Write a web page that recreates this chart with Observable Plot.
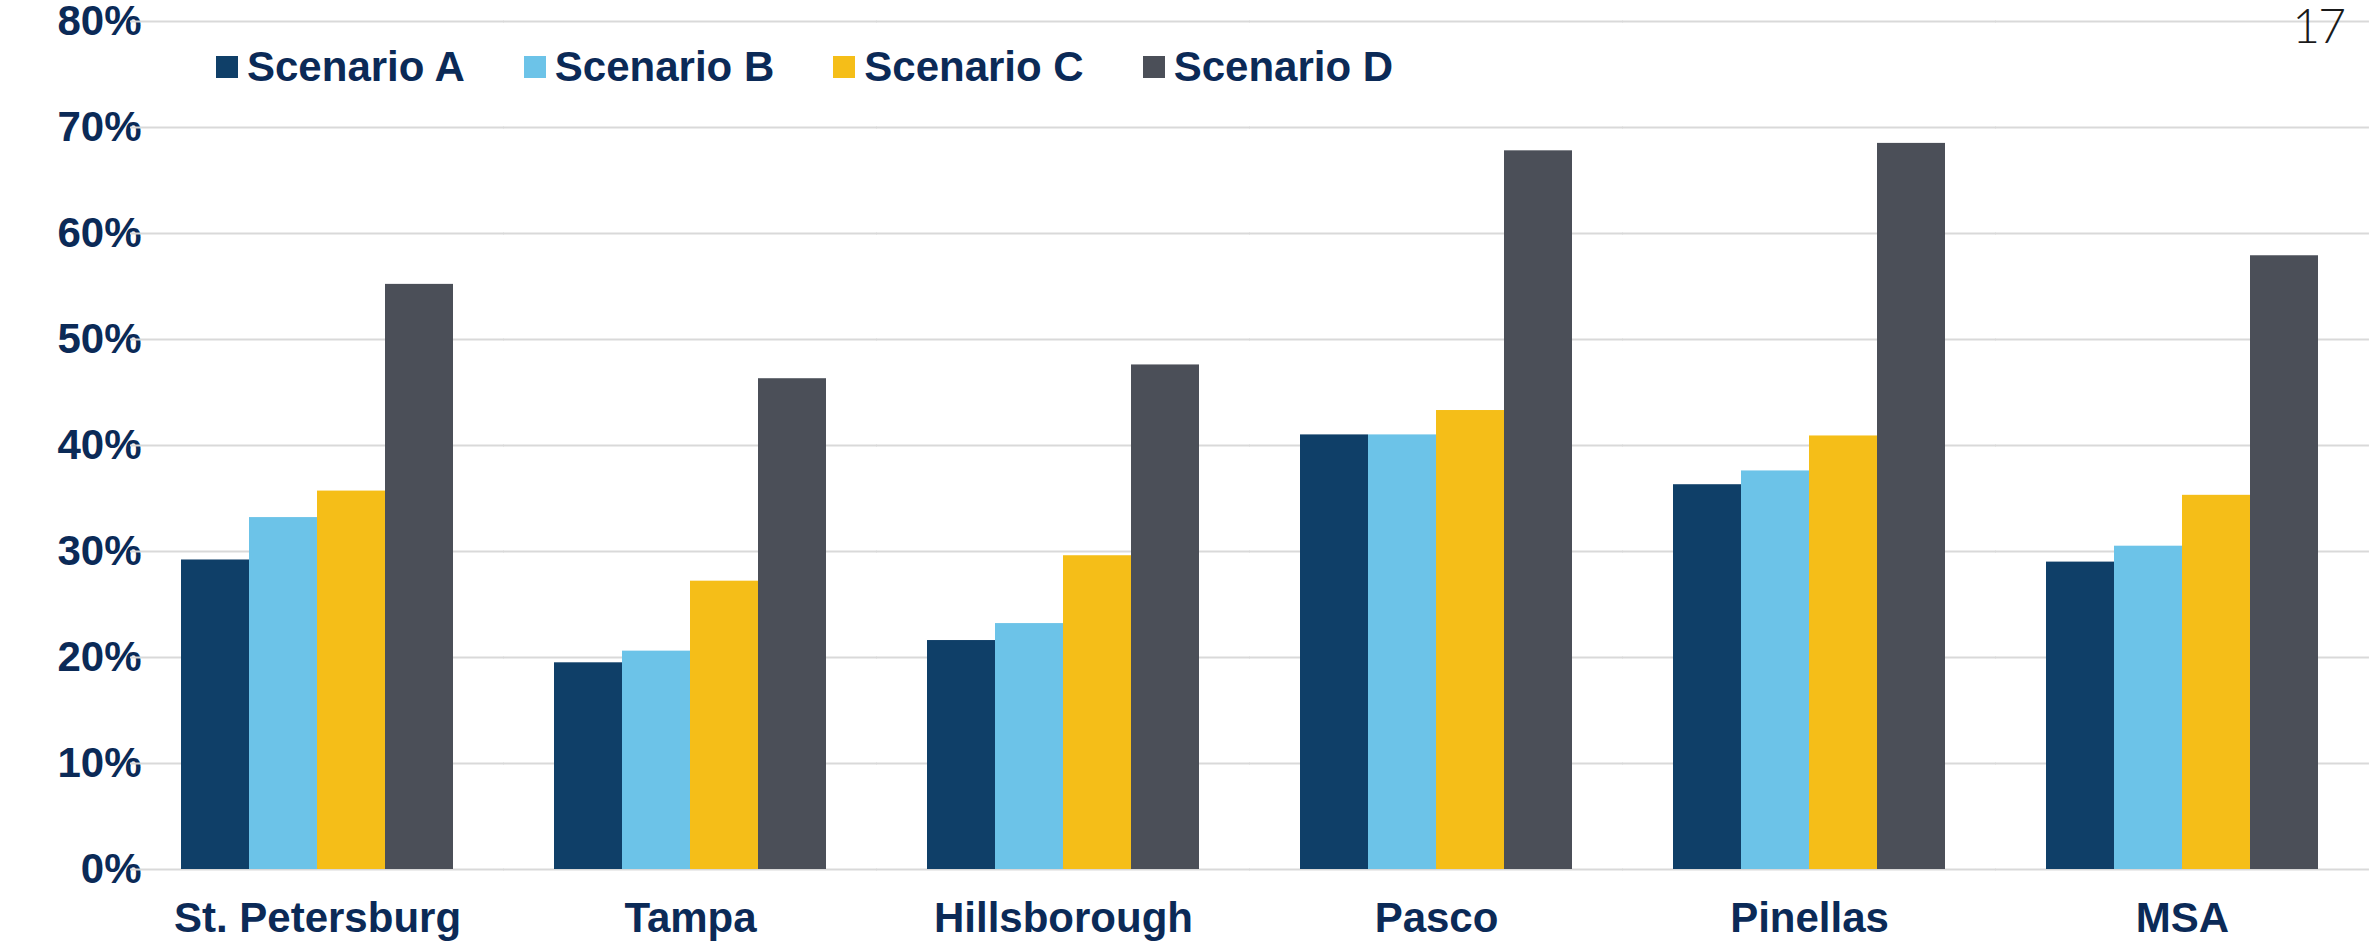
<!DOCTYPE html>
<html>
<head>
<meta charset="utf-8">
<script src="https://cdn.jsdelivr.net/npm/d3@7"></script>
<script src="https://cdn.jsdelivr.net/npm/@observablehq/plot@0.6"></script>
<style>
  html, body { margin: 0; padding: 0; background: #fff; overflow: hidden; }
  #wrap { position: relative; width: 2371px; height: 942px; }
  #legend { position: absolute; left: 216px; top: 46px; display: flex; font-family: "Liberation Sans", Arial, sans-serif; font-weight: bold; font-size: 42px; line-height: 42px; color: #0b2a57; }
  .item { display: flex; align-items: center; margin-right: 59px; }
  .sw { width: 22px; height: 22px; margin-right: 9px; }
  #page { position: absolute; right: 27px; top: -4px; font-family: Lato, "DejaVu Sans", sans-serif; font-weight: 300; font-size: 48px; color: #1a1a1a; letter-spacing: -2px; }
</style>
</head>
<body>
<div id="wrap"></div>
<script>
const regions = ["St. Petersburg", "Tampa", "Hillsborough", "Pasco", "Pinellas", "MSA"];
const scenarios = ["Scenario A", "Scenario B", "Scenario C", "Scenario D"];
const colors = ["#0f3f68", "#6cc3e8", "#f5be18", "#4b4f58"];
const scenarioA = [0.292, 0.195, 0.216, 0.410, 0.363, 0.290];
const scenarioB = [0.332, 0.206, 0.232, 0.410, 0.376, 0.305];
const scenarioC = [0.357, 0.272, 0.296, 0.433, 0.409, 0.353];
const scenarioD = [0.552, 0.463, 0.476, 0.678, 0.685, 0.579];
const yTicks = [0, 0.1, 0.2, 0.3, 0.4, 0.5, 0.6, 0.7, 0.8];
const pageNumber = "17";

const series = [scenarioA, scenarioB, scenarioC, scenarioD];
const data = [];
regions.forEach((r, i) => scenarios.forEach((s, j) => data.push({region: r, scenario: s, value: series[j][i]})));

const W = 2371, ML = 128, MR = 0;
const padInner = 0.27, padOuter = 0.135;
const step = (W - ML - MR) / (regions.length - padInner + 2 * padOuter);
const halfGap = step * padInner / 2 + 0.5;

const textColor = "#0b2a57";
const plot = Plot.plot({
  width: W,
  height: 942,
  marginLeft: ML,
  marginRight: MR,
  marginTop: 21,
  marginBottom: 73,
  style: {fontFamily: "'Liberation Sans', Arial, sans-serif", fontWeight: "bold", fontSize: "42px", color: textColor, background: "#fff"},
  fx: {domain: regions, paddingInner: padInner, paddingOuter: padOuter, axis: "bottom", label: null, tickSize: 0, tickPadding: 33},
  x: {domain: scenarios, padding: 0, axis: null},
  y: {domain: [0, 0.8], ticks: yTicks, tickFormat: d => Math.round(d * 100) + "%", tickSize: 0, tickPadding: 40, label: null},
  color: {domain: scenarios, range: colors},
  marks: [
    Plot.ruleY(yTicks, {stroke: "#d9d9d9", strokeWidth: 2, insetLeft: -halfGap, insetRight: -halfGap}),
    Plot.barY(data, {fx: "region", x: "scenario", y: "value", fill: "scenario"})
  ]
});

const wrap = document.getElementById("wrap");
wrap.appendChild(plot);

const legend = document.createElement("div");
legend.id = "legend";
scenarios.forEach((s, j) => {
  const it = document.createElement("div");
  it.className = "item";
  const sw = document.createElement("span");
  sw.className = "sw";
  sw.style.background = colors[j];
  const lab = document.createElement("span");
  lab.textContent = s;
  it.appendChild(sw);
  it.appendChild(lab);
  legend.appendChild(it);
});
wrap.appendChild(legend);

const page = document.createElement("div");
page.id = "page";
page.textContent = pageNumber;
wrap.appendChild(page);
</script>
</body>
</html>
